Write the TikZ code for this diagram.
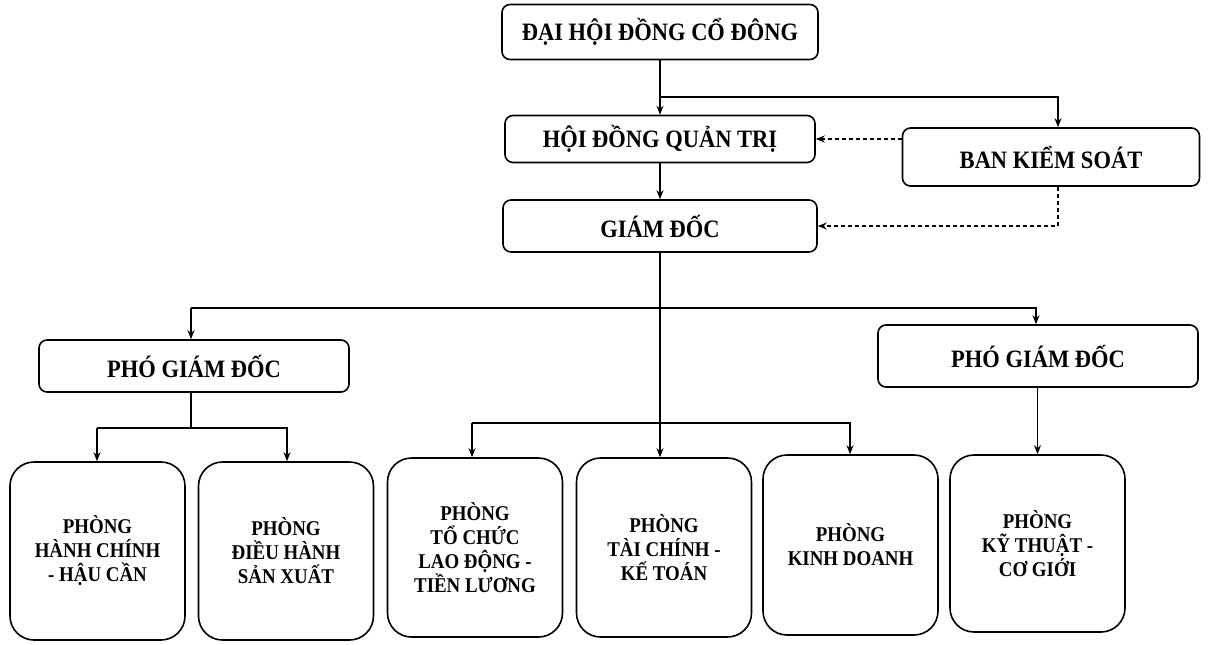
\documentclass[tikz,border=0pt]{standalone}
\usepackage{fontspec}
\setmainfont{Liberation Serif}
\newfontfamily\condserif[FakeStretch=0.9]{Liberation Serif}
\usetikzlibrary{arrows.meta}
\begin{document}
\begin{tikzpicture}[x=1pt,y=-1pt,
  topbox/.style={draw, line width=1.6pt, rounded corners=8pt, align=center, inner sep=0pt,
    font=\condserif\bfseries\fontsize{25}{28}\selectfont},
  roombox/.style={draw, line width=1.6pt, rounded corners=24pt, align=center, inner sep=0pt,
    minimum width=175pt, minimum height=178pt, font=\condserif\bfseries\fontsize{21}{24}\selectfont},
  conn/.style={line width=1.3pt, -{Stealth[length=9pt,width=7pt]}},
  line/.style={line width=1.3pt},
  dconn/.style={line width=1.3pt, dash pattern=on 4pt off 3pt, -{Stealth[length=9pt,width=7pt]}}]
\useasboundingbox (0,0) rectangle (1221,645);
% top level
\node[topbox, minimum width=316pt, minimum height=55pt] (dh) at (660,32) {ĐẠI HỘI ĐỒNG CỔ ĐÔNG};
\node[topbox, minimum width=310pt, minimum height=47pt] (hd) at (660,139) {HỘI ĐỒNG QUẢN TRỊ};
\node[topbox, minimum width=297pt, minimum height=58pt] (bks) at (1051,157) {BAN KIỂM SOÁT};
\node[topbox, minimum width=314pt, minimum height=52pt] (gd) at (660,226) {GIÁM ĐỐC};
\node[topbox, minimum width=310pt, minimum height=52pt] (pg1) at (194,366) {PHÓ GIÁM ĐỐC};
\node[topbox, minimum width=320pt, minimum height=62pt] (pg2) at (1038,356) {PHÓ GIÁM ĐỐC};
% rooms
\node[roombox] (p1) at (97.5,551) {PHÒNG\\HÀNH CHÍNH\\- HẬU CẦN};
\node[roombox] (p2) at (286,551) {PHÒNG\\ĐIỀU HÀNH\\SẢN XUẤT};
\node[roombox, minimum height=179pt] (p3) at (475,547.5) {PHÒNG\\TỔ CHỨC\\LAO ĐỘNG -\\TIỀN LƯƠNG};
\node[roombox, minimum height=179pt] (p4) at (664,547.5) {PHÒNG\\TÀI CHÍNH -\\KẾ TOÁN};
\node[roombox, minimum height=180pt] (p5) at (850.5,545) {PHÒNG\\KINH DOANH};
\node[roombox, minimum height=177pt] (p6) at (1037.5,543.5) {PHÒNG\\KỸ THUẬT -\\CƠ GIỚI};
% coordinates
\coordinate (b1) at (660,97);
\coordinate (b1r) at (1058,97);
\coordinate (b2) at (660,308);
\coordinate (b2l) at (191,308);
\coordinate (b2r) at (1036,308);
\coordinate (b3) at (191,428);
\coordinate (b3l) at (97,428);
\coordinate (b3r) at (287,428);
\coordinate (b4) at (660,423);
\coordinate (b4l) at (472,423);
\coordinate (b4r) at (850,423);
% connectors
\draw[conn] (dh.south) -- (hd.north);
\draw[conn] (b1) -- (b1r) -- (b1r |- bks.north);
\draw[dconn] (hd.east -| bks.west) -- (hd.east);
\draw[dconn] (b1r |- bks.south) |- (gd.east);
\draw[conn] (hd.south) -- (gd.north);
\draw[conn] (gd.south) -- (gd.south |- p4.north);
\draw[conn] (b2l) -- (b2r) -- (b2r |- pg2.north);
\draw[conn] (b2l) -- (b2l |- pg1.north);
\draw[conn] (b4l) -- (b4r) -- (b4r |- p5.north);
\draw[conn] (b4l) -- (b4l |- p3.north);
\draw[line] (pg1.south -| b3) -- (b3);
\draw[conn] (b3l) -- (b3r) -- (b3r |- p2.north);
\draw[conn] (b3l) -- (b3l |- p1.north);
\draw[conn] (pg2.south -| p6.north) -- (p6.north);
\end{tikzpicture}
\end{document}
